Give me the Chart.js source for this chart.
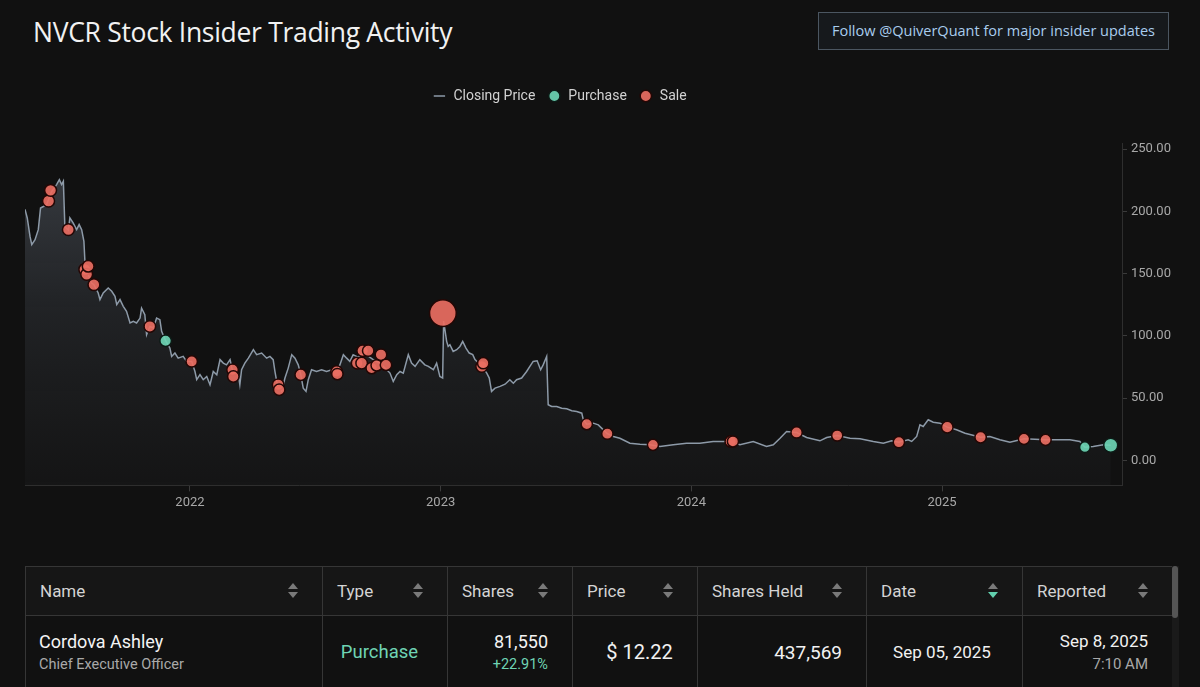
<!DOCTYPE html>
<html>
<head>
<meta charset="utf-8">
<script src="https://cdn.jsdelivr.net/npm/chart.js@4.4.1/dist/chart.umd.min.js"></script>
<style>
  html, body { margin: 0; padding: 0; background: #111111; }
  body { width: 1200px; height: 687px; position: relative; overflow: hidden; font-family: Roboto, "Noto Sans", sans-serif; }
  .title { position: absolute; left: 33px; top: 14px; color: #f2f2f2; font-size: 26.5px; font-family: "Open Sans", Roboto, sans-serif; letter-spacing: -0.3px; }
  .follow { position: absolute; left: 818px; top: 12px; width: 349px; height: 36px; border: 1px solid #4b5661; background: #16191c;
            color: #a9cdee; font-size: 14.5px; line-height: 36px; text-align: center; font-family: "Open Sans", Roboto, sans-serif; }
  .wrap { position: absolute; left: 0; top: 77px; width: 1200px; height: 440px; }
  table { position: absolute; left: 25px; top: 566px; width: 1147px; border-collapse: collapse; table-layout: fixed; }
  th, td { border: 1px solid #363636; }
  th { height: 48px; background: #161616; color: #d4d4d4; font-weight: 400; font-size: 17px; text-align: left; padding: 0 0 0 14px; position: relative; }
  td { height: 70px; color: #f2f2f2; vertical-align: middle; border-bottom: none; }
  .sort { position: absolute; right: 24px; top: 16px; width: 10px; height: 16px; }
  .sort:before, .sort:after { content: ""; position: absolute; left: 0; border-left: 5.5px solid transparent; border-right: 5.5px solid transparent; }
  .sort:before { top: 0; border-bottom: 6px solid #7a7a7a; }
  .sort:after { top: 9px; border-top: 6px solid #7a7a7a; }
  .sort.active:after { border-top-color: #62d0ae; }
  .main { font-size: 18px; color: #f4f4f4; }
  .sub { font-size: 14.5px; color: #a9a9a9; margin-top: 4px; }
  .scroll { position: absolute; left: 1172px; top: 566px; width: 7px; height: 121px; background: #1a1a1a; }
  .scroll div { width: 6px; height: 52px; background: #555; border-radius: 3px; margin-left: 0px; }
</style>
</head>
<body>
<div class="title">NVCR Stock Insider Trading Activity</div>
<div class="follow">Follow @QuiverQuant for major insider updates</div>
<div class="wrap"><canvas id="insiderChart"></canvas></div>

<table id="tradeTable">
  <colgroup>
    <col style="width:297px"><col style="width:125px"><col style="width:125px"><col style="width:125px">
    <col style="width:169px"><col style="width:156px"><col style="width:150px">
  </colgroup>
  <thead><tr id="headRow"></tr></thead>
  <tbody><tr id="bodyRow"></tr></tbody>
</table>
<div class="scroll"><div></div></div>

<script>
// closing price, dates as decimal years
const priceDates = [
  2021.342, 2021.351, 2021.362, 2021.369, 2021.382, 2021.395, 2021.404, 2021.415, 2021.428, 2021.448,
  2021.468, 2021.479, 2021.488, 2021.495, 2021.501, 2021.515, 2021.521, 2021.534, 2021.548, 2021.558,
  2021.568, 2021.577, 2021.581, 2021.588, 2021.597, 2021.608, 2021.617, 2021.634, 2021.641, 2021.654,
  2021.674, 2021.688, 2021.701, 2021.708, 2021.721, 2021.734, 2021.747, 2021.761, 2021.774, 2021.787,
  2021.801, 2021.807, 2021.820, 2021.827, 2021.840, 2021.854, 2021.867, 2021.880, 2021.887, 2021.903,
  2021.920, 2021.927, 2021.940, 2021.953, 2021.973, 2021.987, 2022.007, 2022.020, 2022.027, 2022.040,
  2022.053, 2022.067, 2022.080, 2022.093, 2022.107, 2022.120, 2022.133, 2022.146, 2022.160, 2022.172,
  2022.193, 2022.199, 2022.206, 2022.219, 2022.233, 2022.253, 2022.266, 2022.286, 2022.306, 2022.319,
  2022.332, 2022.339, 2022.346, 2022.355, 2022.366, 2022.379, 2022.392, 2022.406, 2022.419, 2022.432,
  2022.442, 2022.452, 2022.463, 2022.472, 2022.485, 2022.505, 2022.525, 2022.545, 2022.565, 2022.586,
  2022.598, 2022.612, 2022.625, 2022.638, 2022.651, 2022.670, 2022.690, 2022.710, 2022.731, 2022.758,
  2022.785, 2022.798, 2022.811, 2022.825, 2022.838, 2022.851, 2022.871, 2022.884, 2022.898, 2022.917,
  2022.937, 2022.951, 2022.971, 2022.984, 2022.997, 2023.008, 2023.012, 2023.024, 2023.030, 2023.037,
  2023.050, 2023.064, 2023.077, 2023.088, 2023.101, 2023.114, 2023.128, 2023.137, 2023.164, 2023.184,
  2023.194, 2023.203, 2023.217, 2023.237, 2023.257, 2023.276, 2023.290, 2023.303, 2023.323, 2023.343,
  2023.356, 2023.369, 2023.385, 2023.399, 2023.409, 2023.423, 2023.429, 2023.443, 2023.463, 2023.483,
  2023.503, 2023.523, 2023.543, 2023.563, 2023.569, 2023.583, 2023.609, 2023.629, 2023.642, 2023.665,
  2023.689, 2023.715, 2023.755, 2023.795, 2023.835, 2023.875, 2023.928, 2023.981, 2024.034, 2024.087,
  2024.157, 2024.194, 2024.247, 2024.300, 2024.327, 2024.354, 2024.380, 2024.420, 2024.460, 2024.513,
  2024.540, 2024.582, 2024.633, 2024.673, 2024.726, 2024.766, 2024.799, 2024.828, 2024.865, 2024.879,
  2024.899, 2024.912, 2024.925, 2024.945, 2024.965, 2024.992, 2025.021, 2025.058, 2025.092, 2025.154,
  2025.191, 2025.231, 2025.271, 2025.327, 2025.413, 2025.457, 2025.510, 2025.550, 2025.570, 2025.603,
  2025.643, 2025.673
];
const closingPrices = [
  201.7, 194.8, 180.0, 173.4, 177.4, 185.4, 202.8, 204.0, 205.5, 216.0,
  221.6, 225.6, 221.6, 224.3, 188.0, 185.0, 194.8, 190.8, 185.4, 189.5,
  185.4, 176.0, 160.0, 152.0, 148.0, 142.5, 141.2, 134.5, 129.2, 134.5,
  138.5, 135.9, 131.8, 125.2, 129.2, 123.8, 119.8, 110.4, 111.7, 110.4,
  114.4, 122.4, 117.1, 101.0, 107.7, 106.4, 114.4, 113.1, 103.7, 96.2,
  90.3, 83.6, 86.3, 82.2, 83.6, 79.6, 79.6, 71.5, 64.9, 68.9,
  64.9, 67.5, 60.9, 71.5, 68.9, 81.0, 78.2, 76.8, 81.0, 70.0,
  68.9, 60.9, 72.9, 78.2, 82.2, 89.0, 85.0, 86.3, 82.2, 83.6,
  81.0, 71.5, 63.5, 58.0, 55.5, 66.2, 74.2, 85.0, 82.2, 76.8,
  69.0, 58.1, 55.5, 64.9, 72.9, 71.5, 72.9, 71.5, 72.9, 70.5,
  76.8, 85.0, 82.2, 79.6, 85.0, 83.0, 86.0, 84.0, 81.0, 78.2,
  72.9, 70.2, 63.5, 68.9, 71.5, 70.2, 85.0, 78.2, 75.6, 81.0,
  76.8, 75.6, 72.9, 78.2, 67.5, 66.2, 112.0, 95.7, 91.6, 93.0,
  87.6, 89.0, 91.6, 95.7, 90.3, 86.3, 85.0, 81.0, 76.0, 70.2,
  66.2, 55.5, 58.1, 59.5, 61.3, 64.9, 62.1, 64.9, 66.2, 71.5,
  75.6, 79.6, 80.1, 72.9, 76.8, 83.6, 44.8, 43.4, 43.4, 42.0,
  41.5, 39.9, 39.4, 38.0, 32.7, 29.2, 30.0, 28.6, 26.0, 21.5,
  19.3, 17.9, 13.9, 13.0, 12.6, 11.3, 12.6, 13.9, 13.9, 15.3,
  15.3, 12.6, 15.3, 11.3, 12.6, 17.9, 23.3, 22.5, 18.5, 15.8,
  18.5, 20.1, 17.9, 17.4, 15.3, 13.9, 15.8, 14.7, 16.6, 15.3,
  19.3, 28.7, 27.3, 32.7, 30.8, 30.0, 26.8, 24.7, 21.9, 18.7,
  19.3, 16.6, 14.7, 17.4, 16.6, 16.6, 16.6, 15.3, 10.7, 11.3,
  12.6, 12.2
];

// insider sales: date, price, trade value ($M)
const saleDates = [
  2021.436, 2021.444, 2021.515, 2021.581, 2021.588, 2021.594, 2021.617, 2021.840, 2022.007, 2022.170,
  2022.173, 2022.352, 2022.356, 2022.442, 2022.585, 2022.588, 2022.667, 2022.685, 2022.689, 2022.711,
  2022.725, 2022.745, 2022.762, 2022.782, 2023.009, 2023.164, 2023.170, 2023.583, 2023.665, 2023.847,
  2024.157, 2024.166, 2024.420, 2024.582, 2024.828, 2025.021, 2025.154, 2025.327, 2025.413
];
const salePrices = [
  208.4, 217.0, 185.4, 153.5, 149.5, 156.0, 141.2, 107.7, 79.6, 72.9,
  67.5, 60.9, 56.8, 68.9, 71.5, 69.4, 78.2, 78.2, 88.2, 88.2,
  74.2, 76.4, 85.0, 76.8, 118.4, 75.6, 78.2, 29.2, 21.5, 12.6,
  15.3, 15.3, 22.5, 20.1, 14.7, 26.8, 18.7, 17.4, 16.6
];
const saleValues = [
  0.25, 0.22, 0.20, 0.25, 0.20, 0.18, 0.20, 0.15, 0.12, 0.15,
  0.12, 0.15, 0.12, 0.15, 0.15, 0.12, 0.15, 0.15, 0.15, 0.12,
  0.12, 0.12, 0.15, 0.12, 17.5, 0.20, 0.12, 0.10, 0.10, 0.08,
  0.10, 0.08, 0.10, 0.08, 0.10, 0.15, 0.12, 0.10, 0.10
];

// insider purchases
const purchaseDates = [2021.903, 2025.570, 2025.673];
const purchasePrices = [96.2, 10.7, 12.22];
const purchaseValues = [0.15, 0.03, 0.997];

const yearTicks = [2022, 2023, 2024, 2025];
const priceTicks = [0, 50, 100, 150, 200, 250];

// latest filing shown in the table
const tableHeaders = ["Name", "Type", "Shares", "Price", "Shares Held", "Date", "Reported"];
const rowName = "Cordova Ashley";
const rowTitle = "Chief Executive Officer";
const rowType = "Purchase";
const rowShares = "81,550";
const rowChange = "+22.91%";
const rowPrice = "$ 12.22";
const rowHeld = "437,569";
const rowDate = "Sep 05, 2025";
const rowReported = "Sep 8, 2025";
const rowReportedTime = "7:10 AM";

const SALE_COLOR = "rgba(234, 110, 98, 0.92)";
const BUY_COLOR = "rgba(108, 212, 180, 0.92)";

function markerRadius(valueM) {
  return 5 + 2 * Math.sqrt(valueM);
}

function toPoints(xs, ys) {
  return xs.map((x, i) => ({ x: x, y: ys[i] }));
}

const ctx = document.getElementById("insiderChart").getContext("2d");

// extra room under the legend, and nudge it left like the original
const legendSpace = {
  id: "legendSpace",
  beforeInit(chart) {
    const fit = chart.legend.fit;
    chart.legend.fit = function () {
      fit.bind(chart.legend)();
      this.height += 30;
    };
  },
  afterLayout(chart) {
    chart.legend.left -= 49;
    chart.legend.right -= 49;
  }
};

new Chart(ctx, {
  type: "line",
  data: {
    datasets: [
      {
        label: "Closing Price",
        data: toPoints(priceDates, closingPrices),
        borderColor: "#8d9aa8",
        borderWidth: 1.5,
        pointRadius: 0,
        pointStyle: "line",
        tension: 0,
        fill: "start",
        order: 3,
        backgroundColor: function (context) {
          const area = context.chart.chartArea;
          if (!area) return "rgba(120,130,145,0.2)";
          const g = context.chart.ctx.createLinearGradient(0, area.top, 0, area.bottom);
          g.addColorStop(0, "rgba(125,135,150,0.40)");
          g.addColorStop(0.5, "rgba(110,120,135,0.17)");
          g.addColorStop(1, "rgba(90,95,105,0.06)");
          return g;
        }
      },
      {
        type: "scatter",
        label: "Purchase",
        data: toPoints(purchaseDates, purchasePrices),
        backgroundColor: BUY_COLOR,
        borderColor: "#0d1a16",
        borderWidth: 1.5,
        pointStyle: "circle",
        pointRadius: purchaseValues.map(markerRadius),
        order: 1
      },
      {
        type: "scatter",
        label: "Sale",
        data: toPoints(saleDates, salePrices),
        backgroundColor: SALE_COLOR,
        borderColor: "#230705",
        borderWidth: 1.5,
        pointStyle: "circle",
        pointRadius: saleValues.map(markerRadius),
        order: 2
      }
    ]
  },
  options: {
    responsive: true,
    maintainAspectRatio: false,
    animation: false,
    layout: { padding: { left: 25, right: 8, top: 0, bottom: 2 } },
    plugins: {
      legend: {
        display: true,
        position: "top",
        labels: {
          color: "#d2d2d2",
          font: { size: 14, family: "Roboto" },
          usePointStyle: true,
          boxHeight: 8,
          padding: 12,
          sort: (a, b) => a.datasetIndex - b.datasetIndex
        }
      },
      tooltip: { enabled: false }
    },
    scales: {
      x: {
        type: "linear",
        min: 2021.342,
        max: 2025.718,
        afterBuildTicks: function (scale) {
          scale.ticks = yearTicks.map(v => ({ value: v }));
        },
        ticks: {
          color: "#a8a8a8",
          font: { size: 13, family: "Roboto" },
          padding: 4,
          maxRotation: 0,
          callback: v => String(v)
        },
        grid: { drawOnChartArea: false, drawTicks: true, tickLength: 6, color: "#3a3a3a" },
        border: { display: true, color: "#2e2e2e" }
      },
      y: {
        position: "right",
        min: -20,
        max: 255,
        afterBuildTicks: function (scale) {
          scale.ticks = priceTicks.map(v => ({ value: v }));
        },
        afterFit: function (scale) {
          scale.width = 70;
        },
        ticks: {
          color: "#a8a8a8",
          font: { size: 13, family: "Roboto" },
          padding: 4,
          callback: v => v.toFixed(2)
        },
        grid: { drawOnChartArea: false, drawTicks: true, tickLength: 5, color: "#3a3a3a" },
        border: { display: true, color: "#2e2e2e" }
      }
    }
  },
  plugins: [legendSpace]
});

// table
const headRow = document.getElementById("headRow");
tableHeaders.forEach(function (h) {
  const th = document.createElement("th");
  th.textContent = h;
  const s = document.createElement("span");
  s.className = h === "Date" ? "sort active" : "sort";
  th.appendChild(s);
  headRow.appendChild(th);
});

const bodyRow = document.getElementById("bodyRow");
bodyRow.innerHTML =
  '<td style="padding-left:13px"><div class="main">' + rowName + '</div><div class="sub">' + rowTitle + '</div></td>' +
  '<td style="text-align:center;color:#6fd4b4;font-size:18.5px;padding-right:12px">' + rowType + '</td>' +
  '<td style="text-align:right;padding-right:24px"><div class="main">' + rowShares + '</div><div class="sub" style="color:#6fd4b4">' + rowChange + '</div></td>' +
  '<td style="text-align:center;font-size:20px;padding-left:10px">' + rowPrice + '</td>' +
  '<td style="text-align:right;padding-right:24px;font-size:19px">' + rowHeld + '</td>' +
  '<td style="text-align:center;font-size:17px;padding-right:6px">' + rowDate + '</td>' +
  '<td style="text-align:right;padding-right:24px"><div style="font-size:17px">' + rowReported + '</div><div class="sub" style="font-size:15px">' + rowReportedTime + '</div></td>';
</script>
</body>
</html>
